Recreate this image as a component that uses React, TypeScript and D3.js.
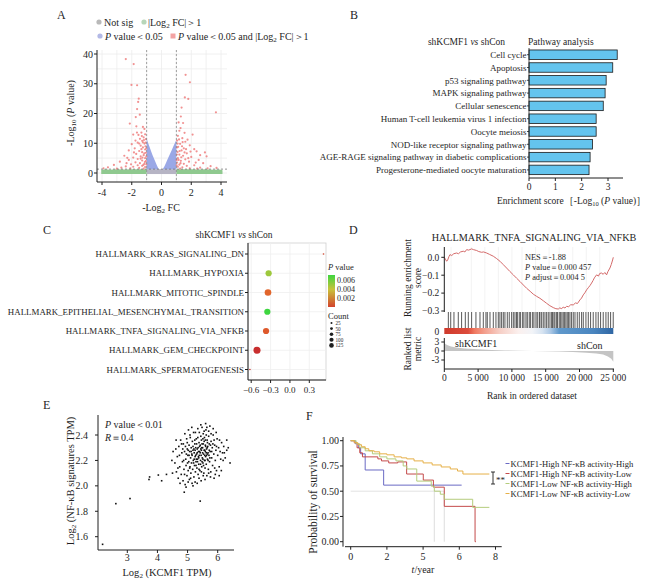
import React from "react";
import * as d3 from "d3";

const FONT = "'Liberation Serif','Times New Roman',Times,serif";
const INK = "#1e1e1e";

// ---------------- A: volcano ----------------
const volcanoXTicks = [-4, -2, 0, 2, 4];
const volcanoYTicks = [0, 10, 20, 30, 40];
const volcanoGridX = [-4, -3, -2, -1, 0, 1, 2, 3, 4];
const volcanoGridY = [0, 5, 10, 15, 20, 25, 30, 35, 40];
const volcanoFcCut = 1;
const volcanoPCut = 1.3;
const volcanoBlueLeft = [[-1.0, 12.3], [-0.97, 11.2], [-0.9, 10.1], [-0.8, 8.7], [-0.7, 7.3], [-0.6, 6.0], [-0.5, 4.8], [-0.4, 3.6], [-0.3, 2.4], [-0.2, 1.4]];
const volcanoBlueRight = [[0.1, 1.4], [0.2, 2.3], [0.3, 3.4], [0.4, 4.5], [0.5, 5.6], [0.6, 6.7], [0.7, 7.8], [0.8, 9.0], [0.9, 10.1], [1.0, 11.2]];
const volcanoGreenLeft = [[-4.05, 1.0], [-3.8, 1.25], [-3.5, 1.1], [-3.0, 1.3], [-2.5, 1.2], [-2.0, 1.3], [-1.5, 1.3], [-1.0, 1.3]];
const volcanoGreenRight = [[1.0, 1.3], [1.5, 1.3], [2.0, 1.3], [2.5, 1.2], [3.0, 1.3], [3.5, 1.1], [3.9, 1.2], [4.1, 0.9]];
const volcanoGrayBand = [[-1.0, 1.3], [1.0, 1.3]];
const volcanoRed = [
  [-2.4, 38.3], [-1.87, 36.6], [-2.02, 29.6], [-1.64, 29.5], [-1.53, 25], [-1.57, 23.9], [-1.64, 21.5], [-1.46, 19.6], [-1.73, 18.8], [-2.13, 16.6],
  [-1.69, 15.7], [-1.25, 15.5], [-1.15, 14.8], [-1.35, 13.6], [-1.9, 12.9], [-1.1, 13], [-1.2, 12], [-1.45, 11.5], [-1.05, 11.4], [-1.3, 10.8],
  [-1.6, 10.2], [-2.0, 9.7], [-1.15, 9.9], [-1.4, 9.2], [-1.08, 9.0], [-1.25, 8.6], [-1.8, 8.3], [-2.2, 7.6], [-1.1, 7.9], [-1.5, 7.4],
  [-1.3, 7.0], [-1.05, 6.8], [-1.7, 6.4], [-2.5, 5.8], [-1.2, 6.0], [-1.4, 5.6], [-1.9, 5.2], [-1.1, 5.0], [-1.6, 4.7], [-2.2, 4.4],
  [-1.3, 4.2], [-1.05, 4.0], [-2.8, 3.8], [-1.75, 3.6], [-1.45, 3.3], [-1.15, 3.1], [-2.05, 2.9], [-3.2, 2.7], [-1.6, 2.6], [-1.3, 2.4],
  [-2.4, 2.2], [-1.9, 2.1], [-1.1, 2.0], [-3.6, 1.9], [-2.7, 1.8], [-1.5, 1.7], [-2.1, 1.6], [-3.0, 1.5], [-1.2, 1.5], [-3.9, 1.6],
  [-1.35, 8.0], [-1.55, 12.8], [-1.25, 10.3], [-1.65, 13.6], [-2.35, 3.3], [-1.85, 6.9], [-1.02, 5.6], [-1.12, 3.7], [-1.22, 2.7], [-1.4, 4.8],
  [-1.03, 8.3], [-1.07, 10.2], [-1.18, 11.1], [-1.32, 12.4], [-1.02, 2.9], [-1.16, 6.6], [-1.28, 5.2], [-1.5, 9.9], [-1.75, 10.9], [-2.3, 5.1],
  [1.62, 33], [1.91, 30.5], [1.57, 25.4], [1.8, 24.9], [1.35, 22], [1.3, 19], [3.66, 20.4], [1.28, 15.1], [1.45, 16.8], [1.2, 14.2],
  [2.09, 12.9], [1.1, 12.5], [1.4, 11.7], [1.05, 10.9], [1.6, 10.5], [1.25, 9.8], [1.9, 9.3], [1.12, 8.8], [1.5, 8.3], [2.2, 8.0],
  [1.35, 7.6], [2.36, 7.3], [2.92, 6.9], [1.08, 7.1], [1.7, 6.6], [1.2, 6.2], [3.03, 5.6], [1.45, 5.8], [2.0, 5.4], [1.1, 5.0],
  [1.6, 4.6], [2.5, 4.4], [1.3, 4.1], [1.85, 3.8], [1.05, 3.5], [2.8, 3.3], [1.5, 3.1], [1.2, 2.8], [2.2, 2.6], [1.7, 2.4],
  [3.3, 2.3], [1.1, 2.1], [1.4, 1.9], [2.6, 1.8], [1.9, 1.6], [3.7, 1.7], [1.25, 1.5], [2.4, 1.5], [3.1, 1.6], [1.55, 13.5],
  [1.75, 11.2], [1.15, 17], [1.38, 9.0], [2.6, 6.0], [1.95, 7.2], [1.03, 6.2], [1.15, 4.4], [1.28, 3.3], [1.02, 2.6], [1.65, 8.0],
  [1.04, 8.6], [1.08, 9.9], [1.18, 11.3], [1.22, 7.4], [1.33, 5.3], [1.02, 4.4], [1.42, 10.4], [1.55, 6.9], [2.3, 3.5], [1.8, 5.0]
];

// ---------------- B: KEGG bars ----------------
const pathways = [
  "Cell cycle", "Apoptosis", "p53 signaling pathway", "MAPK signaling pathway", "Cellular senescence",
  "Human T-cell leukemia virus 1 infection", "Oocyte meiosis", "NOD-like receptor signaling pathway",
  "AGE-RAGE signaling pathway in diabetic complications", "Progesterone-mediated oocyte maturation"
];
const pathwayScores = [3.35, 3.18, 2.93, 2.89, 2.82, 2.55, 2.55, 2.41, 2.32, 2.28];
const pathwayTicks = [0, 1, 2, 3];

// ---------------- C: GSEA dot plot ----------------
const hallmarks = [
  "HALLMARK_KRAS_SIGNALING_DN", "HALLMARK_HYPOXIA", "HALLMARK_MITOTIC_SPINDLE",
  "HALLMARK_EPITHELIAL_MESENCHYMAL_TRANSITION", "HALLMARK_TNFA_SIGNALING_VIA_NFKB",
  "HALLMARK_GEM_CHECKPOINT", "HALLMARK_SPERMATOGENESIS"
];
const hallmarkNES = [0.52, -0.33, -0.34, -0.35, -0.37, -0.51, -0.62];
const hallmarkP = [0.0012, 0.0048, 0.0021, 0.0065, 0.0018, 0.0006, 0.0007];
const hallmarkCount = [4, 150, 170, 150, 150, 190, 3];
const nesTicks = [-0.6, -0.3, 0.0, 0.3];
const pLegendTicks = [0.006, 0.004, 0.002];
const countLegend = [25, 50, 75, 100, 125];

// ---------------- D: GSEA enrichment plot ----------------
const esCurve = [
  [0, 0], [150, -0.01], [345, -0.022], [500, -0.015], [700, 0.005], [838, 0.015], [1100, 0.01], [1400, 0.02], [1824, 0.024], [2100, 0.02],
  [2400, 0.03], [2810, 0.034], [3050, 0.03], [3303, 0.043], [3600, 0.04], [4043, 0.047], [4300, 0.043], [4782, 0.038], [5100, 0.032], [5522, 0.028],
  [5800, 0.03], [6261, 0.024], [6700, 0.016], [7247, 0.006], [7700, -0.006], [8233, -0.022], [8700, -0.04], [9219, -0.06], [9700, -0.079], [10205, -0.098],
  [10700, -0.117], [11191, -0.135], [11700, -0.155], [12177, -0.173], [12700, -0.19], [13163, -0.206], [13650, -0.218], [14149, -0.229], [14650, -0.243], [15135, -0.257],
  [15600, -0.27], [16121, -0.281], [16500, -0.287], [16861, -0.289], [17100, -0.282], [17300, -0.287], [17600, -0.279], [17850, -0.283], [18093, -0.274], [18400, -0.276],
  [18700, -0.265], [19079, -0.266], [19400, -0.255], [19700, -0.258], [20065, -0.238], [20300, -0.228], [20558, -0.21], [20800, -0.198], [21051, -0.182], [21300, -0.17],
  [21550, -0.158], [21791, -0.144], [22000, -0.13], [22200, -0.115], [22530, -0.098], [22800, -0.105], [23000, -0.09], [23270, -0.088], [23500, -0.095], [23750, -0.085],
  [24009, -0.098], [24200, -0.08], [24502, -0.06], [24700, -0.04], [24900, -0.015], [25000, 0.0]
];
const hitRanks = [
  600, 950, 1430, 2070, 2560, 3110, 3550, 4040, 4680, 5280, 5770, 6160, 6360, 6760, 7250, 7640, 7990, 8230, 8480, 8730,
  8970, 9320, 9610, 9960, 10210, 10450, 10700, 10800, 11090, 11290, 11590, 11780, 12080, 12280, 12570, 12770, 13070, 13260, 13560, 13760,
  14050, 14150, 14400, 14640, 14890, 15140, 15380, 15630, 15880, 16020, 16220, 16370, 16620, 16760, 17010, 17210, 17400, 17600, 17800, 17990,
  18190, 18390, 18590, 18830, 19080, 19330, 19670, 19970, 20310, 20560, 20950, 21300, 21640, 22030, 22430, 22770, 23120, 23510, 23910, 24250,
  24600, 24990
];
const faintRanks = [1000, 4000, 6000, 8000, 10000, 11500, 13500, 15500, 17000, 19000, 21000, 23000];
const rankedMetric = [
  [0, 3.0], [150, 2.3], [500, 1.9], [1000, 1.5], [2000, 1.1], [3000, 0.85], [5000, 0.55], [7000, 0.35], [9000, 0.2], [11000, 0.08],
  [13000, 0.0], [15000, -0.1], [17000, -0.2], [19000, -0.35], [21000, -0.55], [22500, -0.8], [23500, -1.2], [24200, -1.8], [24700, -2.6], [25000, -3.6]
];
const rankBarStops = [
  [0, "#cf3a2c"], [0.14, "#dc4b3b"], [0.18, "#f07a62"], [0.24, "#f3a08e"], [0.33, "#f6cfc6"], [0.44, "#fbf0ee"],
  [0.52, "#f2f4f8"], [0.58, "#d6e3f1"], [0.63, "#a9c6e4"], [0.68, "#5f98cb"], [0.88, "#4a86c0"], [1, "#2f66a3"]
];
const rankTicks = [0, 5000, 10000, 15000, 20000, 25000];
const esTicks = [0, -0.1, -0.2, -0.3];
const metricTicks = [3, 0, -3];

// ---------------- E: scatter ----------------
const kcmfScatter = [
  [2.18, 1.54], [2.62, 1.86], [3.09, 1.90], [3.72, 2.05], [3.74, 2.07], [4.03, 2.085], [4.14, 2.04], [4.3, 2.09], [5.42, 1.88], [4.89, 1.95],
  [6.41, 2.18], [6.3, 2.36], [5.6, 2.49], [4.5, 2.1], [4.52, 2.27], [4.48, 2.2],
  [4.58, 2.18], [4.61, 2.29], [4.63, 2.11], [4.66, 2.23], [4.69, 2.06], [4.71, 2.31], [4.74, 2.15], [4.77, 2.36], [4.79, 2.09], [4.81, 2.26],
  [4.83, 2.19], [4.85, 2.04], [4.86, 2.33], [4.88, 2.13], [4.9, 2.27], [4.91, 2.41], [4.92, 2.01], [4.94, 2.21], [4.95, 2.16], [4.97, 2.37],
  [4.98, 2.08], [4.99, 2.29], [5.01, 2.24], [5.02, 2.12], [5.03, 2.44], [5.04, 2.19], [5.05, 2.32], [5.06, 2.05], [5.07, 2.27], [5.08, 2.15],
  [5.09, 2.38], [5.1, 2.22], [5.11, 2.1], [5.12, 2.3], [5.13, 2.18], [5.14, 2.25], [5.15, 2.02], [5.16, 2.35], [5.17, 2.13], [5.18, 2.28],
  [5.19, 2.2], [5.2, 2.42], [5.21, 2.07], [5.22, 2.26], [5.23, 2.16], [5.24, 2.33], [5.25, 2.23], [5.26, 2.11], [5.27, 2.3], [5.28, 2.19],
  [5.29, 2.37], [5.3, 2.25], [5.31, 2.14], [5.32, 2.29], [5.33, 2.21], [5.34, 2.45], [5.35, 2.09], [5.36, 2.27], [5.37, 2.17], [5.38, 2.34],
  [5.39, 2.24], [5.4, 2.31], [5.41, 2.12], [5.42, 2.26], [5.43, 2.2], [5.44, 2.39], [5.45, 2.04], [5.46, 2.28], [5.47, 2.15], [5.48, 2.33],
  [5.49, 2.22], [5.5, 2.3], [5.51, 2.18], [5.52, 2.41], [5.53, 2.25], [5.54, 2.1], [5.55, 2.35], [5.56, 2.2], [5.57, 2.28], [5.58, 2.14],
  [5.59, 2.32], [5.6, 2.23], [5.61, 2.44], [5.62, 2.17], [5.63, 2.29], [5.64, 2.08], [5.65, 2.36], [5.66, 2.21], [5.67, 2.31], [5.68, 2.26],
  [5.69, 2.13], [5.7, 2.39], [5.71, 2.24], [5.72, 2.33], [5.73, 2.19], [5.74, 2.47], [5.75, 2.27], [5.77, 2.11], [5.78, 2.35], [5.8, 2.22],
  [5.82, 2.3], [5.83, 2.16], [5.85, 2.4], [5.87, 2.25], [5.88, 2.06], [5.9, 2.32], [5.92, 2.2], [5.94, 2.28], [5.96, 2.12], [5.98, 2.37],
  [6.0, 2.24], [6.03, 2.3], [6.05, 2.15], [6.08, 2.27], [6.1, 2.21], [6.13, 2.34], [6.16, 2.26], [6.2, 2.31], [6.25, 2.22], [6.3, 2.28],
  [5.15, 2.24], [5.18, 2.31], [5.22, 2.21], [5.25, 2.28], [5.27, 2.24], [5.3, 2.33], [5.32, 2.26], [5.35, 2.3], [5.37, 2.22], [5.4, 2.27],
  [5.42, 2.32], [5.45, 2.24], [5.47, 2.3], [5.5, 2.26], [5.52, 2.33], [5.55, 2.28], [5.57, 2.24], [5.6, 2.31], [5.62, 2.26], [5.65, 2.3],
  [5.2, 2.18], [5.28, 2.16], [5.33, 2.19], [5.38, 2.13], [5.43, 2.17], [5.48, 2.19], [5.53, 2.16], [5.58, 2.2], [5.63, 2.24], [5.68, 2.2],
  [5.12, 2.27], [5.24, 2.36], [5.34, 2.38], [5.46, 2.36], [5.56, 2.38], [5.66, 2.34], [5.72, 2.28], [5.76, 2.32], [5.8, 2.27], [5.05, 2.24],
  [4.96, 2.25], [5.0, 2.18], [4.93, 2.31], [4.87, 2.2], [5.07, 2.14], [4.84, 2.29], [5.62, 2.4], [5.7, 2.43], [5.55, 2.43], [5.48, 2.46],
  [5.1, 2.06], [5.25, 2.03], [5.38, 2.06], [5.52, 2.08], [5.7, 2.1], [5.9, 2.14], [6.05, 2.08], [4.75, 2.02], [5.85, 2.45], [5.95, 2.42],
  [4.95, 1.99], [5.02, 2.03], [5.18, 2.0], [5.32, 2.02], [5.46, 2.11], [5.58, 2.05], [5.76, 2.07], [5.92, 2.09], [6.12, 2.12], [6.18, 2.2],
  [4.68, 2.14], [4.73, 2.24], [4.8, 2.33], [4.9, 2.09], [4.99, 2.34], [5.08, 2.4], [5.14, 2.46], [5.26, 2.42], [5.39, 2.42], [5.44, 2.48],
  [5.51, 2.37], [5.59, 2.36], [5.64, 2.46], [5.78, 2.41], [5.88, 2.36], [5.96, 2.31], [6.06, 2.36], [6.22, 2.26], [6.35, 2.3], [4.62, 2.36],
  [5.21, 2.29], [5.29, 2.21], [5.36, 2.23], [5.44, 2.29], [5.51, 2.21], [5.59, 2.27], [5.66, 2.25], [5.74, 2.22], [5.84, 2.33], [5.02, 2.28]
];
const scatterXTicks = [3, 4, 5, 6];
const scatterYTicks = [1.6, 1.8, 2.0, 2.2, 2.4];

// ---------------- F: Kaplan-Meier ----------------
const kmGroups = [
  "KCMF1-High NF-κB activity-High", "KCMF1-High NF-κB activity-Low",
  "KCMF1-Low NF-κB activity-High", "KCMF1-Low NF-κB activity-Low"
];
const kmColors = ["#6a6ac4", "#c44a4a", "#b4cc7c", "#e6b048"];
const kmCurves = [
  [[0, 1], [0.25, 0.97], [0.42, 0.93], [0.55, 0.87], [0.8, 0.71], [1.82, 0.56], [6.13, 0.56]],
  [[0, 1], [0.2, 0.98], [0.35, 0.93], [0.5, 0.88], [0.65, 0.84], [1.5, 0.82], [1.7, 0.8], [2.1, 0.78], [2.6, 0.79], [3.09, 0.67], [4.01, 0.61], [4.57, 0.54], [5.17, 0.35], [6.87, 0], [6.92, 0]],
  [[0, 1], [0.3, 0.97], [0.5, 0.93], [0.8, 0.9], [1.2, 0.87], [1.6, 0.84], [2.0, 0.82], [2.5, 0.8], [2.9, 0.75], [3.1, 0.72], [3.65, 0.6], [4.45, 0.55], [4.62, 0.5], [4.95, 0.47], [5.17, 0.42], [6.74, 0.34], [7.66, 0.34]],
  [[0, 1], [0.2, 0.98], [0.4, 0.96], [0.6, 0.94], [0.8, 0.92], [1.0, 0.9], [1.3, 0.89], [1.6, 0.87], [2.0, 0.86], [2.4, 0.84], [2.8, 0.83], [3.1, 0.82], [3.5, 0.8], [4.0, 0.78], [4.5, 0.76], [5.0, 0.74], [5.5, 0.72], [5.9, 0.7], [6.2, 0.67], [7.66, 0.67]]
];
const kmMedians = [4.62, 5.17];
const kmXTicks = [0, 2, 4, 6, 8];
const kmXTickLabels = ["0", "2", "5", "6", "8"];
const kmYTicks = [0, 0.25, 0.5, 0.75, 1.0];

type P = number[];

const T = (props: any) => <text fontFamily={FONT} fill={INK} {...props} />;

function PanelA() {
  const x = d3.scaleLinear().domain([-4, 4]).range([102, 221]);
  const y = d3.scaleLinear().domain([0, 40]).range([173, 54]);
  const L = 97, R = 227, TOP = 50, B = 182;
  const up = (base: number) => d3.area<P>().x(d => x(d[0])).y0(y(base)).y1(d => y(d[1]));
  return (
    <g>
      <T x={57} y={19} fontSize={12}>A</T>
      <circle cx={99} cy={22} r={2.6} fill="#b9b9b9" />
      <T x={104} y={25.5} fontSize={10}>Not sig</T>
      <circle cx={144} cy={22} r={2.6} fill="#b8d6b8" />
      <T x={148} y={25.5} fontSize={10}>|Log<tspan fontSize={7} dy={2}>2</tspan><tspan dy={-2}> FC|＞1</tspan></T>
      <circle cx={100} cy={36} r={2.6} fill="#b3b9e6" />
      <T x={105} y={39.5} fontSize={10}><tspan fontStyle="italic">P</tspan> value＜0.05</T>
      <rect x={170.5} y={33.5} width={5} height={5} fill="#f3a3a3" />
      <T x={178} y={39.5} fontSize={10}><tspan fontStyle="italic">P</tspan> value＜0.05 and |Log<tspan fontSize={7} dy={2}>2</tspan><tspan dy={-2}> FC|＞1</tspan></T>
      {volcanoGridX.map(v => <line key={"gx" + v} x1={x(v)} x2={x(v)} y1={TOP} y2={B} stroke="#ececec" strokeWidth={0.8} />)}
      {volcanoGridY.map(v => <line key={"gy" + v} x1={L} x2={R} y1={y(v)} y2={y(v)} stroke="#ececec" strokeWidth={0.8} />)}
      <path d={up(-0.35)(volcanoGrayBand) || ""} fill="#b6b4c4" />
      <path d={up(-0.35)(volcanoGreenLeft) || ""} fill="#8fc98f" />
      <path d={up(-0.35)(volcanoGreenRight) || ""} fill="#8fc98f" />
      <path d={up(volcanoPCut)(volcanoBlueLeft) || ""} fill="#9aa8e6" />
      <path d={up(volcanoPCut)(volcanoBlueRight) || ""} fill="#9aa8e6" />
      {volcanoRed.map((d, i) => <circle key={i} cx={x(d[0])} cy={y(d[1])} r={1.1} fill="#ef7f7f" opacity={0.85} />)}
      {[-volcanoFcCut, volcanoFcCut].map(v => <line key={"v" + v} x1={x(v)} x2={x(v)} y1={TOP} y2={B} stroke="#8a8a8a" strokeDasharray="2,2" strokeWidth={0.8} />)}
      <line x1={L} x2={R} y1={y(volcanoPCut)} y2={y(volcanoPCut)} stroke="#777" strokeDasharray="2,2" strokeWidth={0.8} />
      <line x1={L} x2={L} y1={TOP} y2={B} stroke={INK} strokeWidth={1} />
      <line x1={L} x2={R} y1={B} y2={B} stroke={INK} strokeWidth={1} />
      {volcanoYTicks.map(v => (
        <g key={"yt" + v}>
          <line x1={L - 3} x2={L} y1={y(v)} y2={y(v)} stroke={INK} />
          <T x={L - 4} y={y(v) + 3.5} fontSize={10} textAnchor="end">{v}</T>
        </g>
      ))}
      {volcanoXTicks.map(v => (
        <g key={"xt" + v}>
          <line x1={x(v)} x2={x(v)} y1={B} y2={B + 3} stroke={INK} />
          <T x={x(v)} y={B + 14} fontSize={10} textAnchor="middle">{v}</T>
        </g>
      ))}
      <T transform="translate(74,113) rotate(-90)" fontSize={10} textAnchor="middle">-Log<tspan fontSize={7} dy={2}>10</tspan><tspan dy={-2}> (</tspan><tspan fontStyle="italic">P</tspan> value)</T>
      <T x={161} y={211} fontSize={10} textAnchor="middle">-Log<tspan fontSize={7} dy={2}>2</tspan><tspan dy={-2}> FC</tspan></T>
    </g>
  );
}

function PanelB() {
  const x = d3.scaleLinear().domain([0, 3]).range([529, 608]);
  const y = d3.scaleBand().domain(pathways).range([48.3, 176.3]).paddingInner(0.26).paddingOuter(0.13);
  return (
    <g>
      <T x={350} y={19} fontSize={12}>B</T>
      <T x={505} y={45} fontSize={9.5} textAnchor="end">shKCMF1 <tspan fontStyle="italic">vs</tspan> shCon</T>
      <T x={528} y={45} fontSize={9.5}>Pathway analysis</T>
      {pathways.map((p, i) => (
        <g key={p}>
          <rect x={x(0)} y={y(p)} width={x(pathwayScores[i]) - x(0)} height={y.bandwidth()} fill="#64c4ee" stroke="#1a1a1a" strokeWidth={0.8} />
          <line x1={x(0) - 2} x2={x(0)} y1={(y(p) as number) + y.bandwidth() / 2} y2={(y(p) as number) + y.bandwidth() / 2} stroke={INK} strokeWidth={0.8} />
          <T x={x(0) - 2.5} y={(y(p) as number) + y.bandwidth() / 2 + 3.2} fontSize={9} textAnchor="end">{p}</T>
        </g>
      ))}
      <line x1={x(0)} x2={x(0)} y1={48} y2={178} stroke={INK} strokeWidth={0.8} />
      <line x1={x(0)} x2={623} y1={178} y2={178} stroke={INK} strokeWidth={1} />
      {pathwayTicks.map(v => (
        <g key={v}>
          <line x1={x(v)} x2={x(v)} y1={178} y2={181} stroke={INK} />
          <T x={x(v)} y={190} fontSize={9.5} textAnchor="middle">{v}</T>
        </g>
      ))}
      <T x={497} y={204} fontSize={9.5}>Enrichment score［-Log<tspan fontSize={6.5} dy={2}>10</tspan><tspan dy={-2}> (</tspan><tspan fontStyle="italic">P</tspan> value)］</T>
    </g>
  );
}

function PanelC() {
  const x = d3.scaleLinear().domain([-0.6, 0.3]).range([251.2, 309.3]);
  const y = d3.scalePoint().domain(hallmarks).range([254, 369.5]);
  const col = d3.scaleLinear<string>().domain([0.0005, 0.002, 0.004, 0.0065]).range(["#c62a2e", "#e2602a", "#c9c23a", "#3ed640"]);
  const r = d3.scaleSqrt().domain([0, 200]).range([0, 3.6]);
  const rl = d3.scaleSqrt().domain([0, 125]).range([0, 2.3]);
  const L = 248, R = 326, TOP = 243, B = 380;
  return (
    <g>
      <defs>
        <linearGradient id="pgrad" x1="0" y1="0" x2="0" y2="1">
          <stop offset="0" stopColor={col(0.0065)} />
          <stop offset="0.45" stopColor={col(0.004)} />
          <stop offset="1" stopColor={col(0.0012)} />
        </linearGradient>
      </defs>
      <T x={43} y={234} fontSize={12}>C</T>
      <T x={234} y={238} fontSize={9.5} textAnchor="middle">shKCMF1 <tspan fontStyle="italic">vs</tspan> shCon</T>
      <rect x={L} y={TOP} width={R - L} height={B - TOP} fill="#fff" stroke="#cfcfcf" strokeWidth={0.8} />
      {nesTicks.map(v => <line key={v} x1={x(v)} x2={x(v)} y1={TOP} y2={B} stroke="#efefef" strokeWidth={0.8} />)}
      {hallmarks.map(h => <line key={h} x1={L} x2={R} y1={y(h)} y2={y(h)} stroke="#efefef" strokeWidth={0.8} />)}
      <line x1={L} x2={L} y1={TOP} y2={B} stroke={INK} strokeWidth={1} />
      <line x1={L} x2={R} y1={B} y2={B} stroke={INK} strokeWidth={1} />
      {hallmarks.map((h, i) => (
        <g key={h}>
          <line x1={L - 3} x2={L} y1={y(h)} y2={y(h)} stroke={INK} />
          <T x={L - 4} y={(y(h) as number) + 3.2} fontSize={8.9} textAnchor="end">{h}</T>
          <circle cx={x(hallmarkNES[i])} cy={y(h)} r={Math.max(0.8, r(hallmarkCount[i]))} fill={col(hallmarkP[i])} />
        </g>
      ))}
      {nesTicks.map(v => (
        <g key={"t" + v}>
          <line x1={x(v)} x2={x(v)} y1={B} y2={B + 3} stroke={INK} />
          <T x={x(v)} y={393} fontSize={9} textAnchor="middle">{d3.format(".1f")(v)}</T>
        </g>
      ))}
      <T x={328} y={270} fontSize={8.5}><tspan fontStyle="italic">P</tspan> value</T>
      <rect x={328} y={275} width={7} height={32} fill="url(#pgrad)" />
      {pLegendTicks.map((v, i) => <T key={v} x={337} y={283 + i * 9} fontSize={8}>{v}</T>)}
      <T x={328} y={319} fontSize={8.5}>Count</T>
      {countLegend.map((c, i) => (
        <g key={c}>
          <circle cx={331.5} cy={323 + i * 5.6} r={rl(c)} fill={INK} />
          <T x={335.5} y={325 + i * 5.6} fontSize={5.2}>{c}</T>
        </g>
      ))}
    </g>
  );
}

function PanelD() {
  const x = d3.scaleLinear().domain([0, 25000]).range([444.3, 613.3]);
  const esY = d3.scaleLinear().domain([-0.3, 0]).range([311, 257.3]);
  const mY = d3.scaleLinear().domain([-3, 3]).range([360, 342]);
  const L = 444.3;
  const esLine = d3.line<P>().x(d => x(d[0])).y(d => esY(d[1]));
  const mArea = d3.area<P>().x(d => x(d[0])).y0(mY(0)).y1(d => mY(d[1]));
  return (
    <g>
      <defs>
        <linearGradient id="rankgrad" x1="0" y1="0" x2="1" y2="0">
          {rankBarStops.map(s => <stop key={s[0] as number} offset={s[0] as number} stopColor={s[1] as string} />)}
        </linearGradient>
      </defs>
      <T x={349} y={234} fontSize={12}>D</T>
      <T x={534} y={241} fontSize={10.2} textAnchor="middle">HALLMARK_TNFA_SIGNALING_VIA_NFKB</T>
      {faintRanks.map(h => <line key={"f" + h} x1={x(h)} x2={x(h)} y1={247} y2={312} stroke="#f0f0f0" strokeWidth={0.8} />)}
      <path d={esLine(esCurve) || ""} fill="none" stroke="#d46a6a" strokeWidth={1} />
      {hitRanks.map(h => <line key={"h" + h} x1={x(h)} x2={x(h)} y1={312} y2={328} stroke="#222" strokeWidth={0.75} />)}
      <rect x={x(0)} y={328} width={x(25000) - x(0)} height={6} fill="url(#rankgrad)" />
      <path d={mArea(rankedMetric) || ""} fill="#c4c4c4" />
      <line x1={L} x2={L} y1={247} y2={312} stroke={INK} strokeWidth={1} />
      <line x1={L} x2={L} y1={338} y2={369} stroke={INK} strokeWidth={1} />
      <line x1={L} x2={614} y1={369} y2={369} stroke={INK} strokeWidth={1} />
      {esTicks.map(v => (
        <g key={v}>
          <line x1={L - 3} x2={L} y1={esY(v)} y2={esY(v)} stroke={INK} />
          <T x={L - 5} y={esY(v) + 3.3} fontSize={9.5} textAnchor="end">{d3.format(".1f")(v)}</T>
        </g>
      ))}
      <T x={L - 5} y={335} fontSize={9.5} textAnchor="end">0</T>
      {metricTicks.map(v => (
        <g key={"m" + v}>
          <line x1={L - 3} x2={L} y1={mY(v)} y2={mY(v)} stroke={INK} />
          <T x={L - 5} y={mY(v) + 3.3} fontSize={9.5} textAnchor="end">{v}</T>
        </g>
      ))}
      <T x={455} y={347} fontSize={10}>shKCMF1</T>
      <T x={577} y={349} fontSize={10}>shCon</T>
      <T x={525} y={260} fontSize={8.3}>NES＝-1.88</T>
      <T x={525} y={270} fontSize={8.3}><tspan fontStyle="italic">P</tspan> value＝0.000 457</T>
      <T x={525} y={280} fontSize={8.3}><tspan fontStyle="italic">P</tspan> adjust＝0.004 5</T>
      {rankTicks.map(v => (
        <g key={"r" + v}>
          <line x1={x(v)} x2={x(v)} y1={369} y2={372} stroke={INK} />
          <T x={x(v)} y={381} fontSize={9.5} textAnchor="middle">{d3.format(",")(v).replace(",", " ")}</T>
        </g>
      ))}
      <T x={532} y={399} fontSize={9.5} textAnchor="middle">Rank in ordered dataset</T>
      <T transform="translate(411,278) rotate(-90)" fontSize={9.5} textAnchor="middle">Running enrichment</T>
      <T transform="translate(421,278) rotate(-90)" fontSize={9.5} textAnchor="middle">score</T>
      <T transform="translate(411,349) rotate(-90)" fontSize={9.5} textAnchor="middle">Ranked list</T>
      <T transform="translate(421,349) rotate(-90)" fontSize={9.5} textAnchor="middle">metric</T>
    </g>
  );
}

function PanelE() {
  const x = d3.scaleLinear().domain([3, 6]).range([127.3, 217.7]);
  const y = d3.scaleLinear().domain([1.6, 2.4]).range([536.7, 435]);
  const L = 98, B = 550;
  return (
    <g>
      <T x={43} y={409} fontSize={12}>E</T>
      {kcmfScatter.map((d, i) => <rect key={i} x={x(d[0]) - 0.8} y={y(d[1]) - 0.8} width={1.6} height={1.6} fill="#111" />)}
      <line x1={L} x2={L} y1={415} y2={B} stroke={INK} strokeWidth={1} />
      <line x1={L} x2={234} y1={B} y2={B} stroke={INK} strokeWidth={1} />
      {scatterYTicks.map(v => (
        <g key={v}>
          <line x1={L - 3} x2={L} y1={y(v)} y2={y(v)} stroke={INK} />
          <T x={L - 10} y={y(v) + 3.5} fontSize={10} textAnchor="end">{d3.format(".1f")(v)}</T>
        </g>
      ))}
      {scatterXTicks.map(v => (
        <g key={"x" + v}>
          <line x1={x(v)} x2={x(v)} y1={B} y2={B + 3} stroke={INK} />
          <T x={x(v)} y={561} fontSize={10} textAnchor="middle">{v}</T>
        </g>
      ))}
      <T x={105} y={428} fontSize={10}><tspan fontStyle="italic">P</tspan> value＜0.01</T>
      <T x={105} y={441} fontSize={10}><tspan fontStyle="italic">R</tspan>＝0.4</T>
      <T transform="translate(74,481) rotate(-90)" fontSize={10.5} textAnchor="middle">Log<tspan fontSize={7} dy={2}>2</tspan><tspan dy={-2}> (NF-κB signatures TPM)</tspan></T>
      <T x={167} y={576} fontSize={10.5} textAnchor="middle">Log<tspan fontSize={7} dy={2}>2</tspan><tspan dy={-2}> (KCMF1 TPM)</tspan></T>
    </g>
  );
}

function PanelF() {
  const x = d3.scaleLinear().domain([0, 8]).range([350.7, 495.5]);
  const y = d3.scaleLinear().domain([0, 1]).range([541.7, 440.7]);
  const L = 343, B = 546.7;
  const line = d3.line<P>().x(d => x(d[0])).y(d => y(d[1])).curve(d3.curveStepAfter);
  return (
    <g>
      <T x={306} y={420} fontSize={12}>F</T>
      <line x1={x(0)} x2={x(d3.max(kmMedians) as number)} y1={y(0.5)} y2={y(0.5)} stroke="#dadada" strokeWidth={0.8} />
      {kmMedians.map(m => <line key={m} x1={x(m)} x2={x(m)} y1={y(0.5)} y2={y(0)} stroke="#d6d6d6" strokeWidth={0.8} />)}
      {kmCurves.map((c, i) => <path key={i} d={line(c) || ""} fill="none" stroke={kmColors[i]} strokeWidth={1} />)}
      <line x1={L} x2={L} y1={437} y2={B} stroke={INK} strokeWidth={1} />
      <line x1={345} x2={501.7} y1={B} y2={B} stroke={INK} strokeWidth={1} />
      {kmYTicks.map(v => (
        <g key={v}>
          <line x1={L - 3} x2={L} y1={y(v)} y2={y(v)} stroke={INK} />
          <T x={L - 4} y={y(v) + 3.5} fontSize={10} textAnchor="end">{d3.format(".2f")(v)}</T>
        </g>
      ))}
      {kmXTicks.map((v, i) => (
        <g key={"x" + v}>
          <line x1={x(v)} x2={x(v)} y1={B} y2={B + 3} stroke={INK} />
          <T x={x(v)} y={560} fontSize={10} textAnchor="middle">{kmXTickLabels[i]}</T>
        </g>
      ))}
      <T transform="translate(317,502) rotate(-90)" fontSize={11.5} textAnchor="middle">Probability of survival</T>
      <T x={423} y={573} fontSize={10} textAnchor="middle"><tspan fontStyle="italic">t</tspan>/year</T>
      {kmGroups.map((g, i) => (
        <g key={g}>
          <line x1={505.5} x2={509.5} y1={463.5 + i * 10} y2={463.5 + i * 10} stroke={kmColors[i]} strokeWidth={1} />
          <T x={510.5} y={466.5 + i * 10} fontSize={8.6}>{g}</T>
        </g>
      ))}
      <path d="M491,472 H495 M493,472 V484 M491,484 H495" stroke={INK} fill="none" strokeWidth={0.9} />
      <T x={496} y={482.5} fontSize={9}>**</T>
    </g>
  );
}

export default function App() {
  return (
    <svg width={672} height={579} style={{ position: "absolute", left: 0, top: 0, background: "#fff" }}>
      <rect width={672} height={579} fill="#fff" />
      <PanelA />
      <PanelB />
      <PanelC />
      <PanelD />
      <PanelE />
      <PanelF />
    </svg>
  );
}
